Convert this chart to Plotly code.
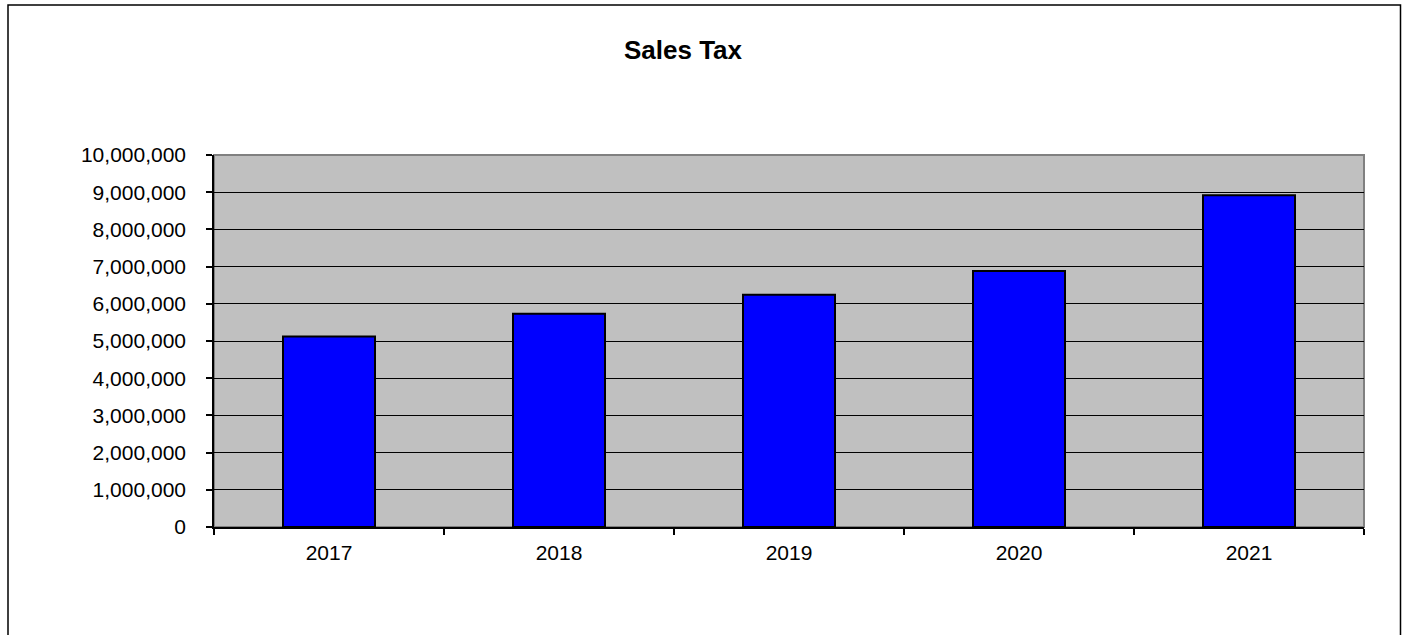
import plotly.graph_objects as go

years = ["2017", "2018", "2019", "2020", "2021"]
sales_tax = [5120000, 5730000, 6240000, 6880000, 8920000]
y_ticks = [0, 1000000, 2000000, 3000000, 4000000, 5000000, 6000000, 7000000, 8000000, 9000000, 10000000]
title_text = "Sales Tax"

W, H = 1409, 635
L, R, T, B = 214, 1364, 155, 527
FONT = "Arial, Liberation Sans, sans-serif"

def px_x(x):
    return (x - L) / (R - L)

def px_y(y):
    return (B - y) / (B - T)

fig = go.Figure(go.Bar(
    x=years, y=sales_tax, width=0.4,
    marker=dict(color="#0000FF", line=dict(color="black", width=2)),
))

fig.update_layout(
    width=W, height=H,
    margin=dict(l=L, r=W - R, t=T, b=H - B, pad=0),
    paper_bgcolor="white", plot_bgcolor="#C0C0C0",
    showlegend=False,
    font=dict(family=FONT, color="black", size=21),
    title=dict(text="<b>" + title_text + "</b>", x=px_x(683), xref="paper", xanchor="center",
               y=1 - 50 / H, yref="container", yanchor="middle",
               font=dict(family=FONT, size=26, color="black")),
    shapes=[
        dict(type="rect", xref="paper", yref="paper", x0=0, x1=1, y0=0, y1=1,
             line=dict(color="#808080", width=2), layer="below"),
        dict(type="rect", xref="paper", yref="paper", x0=px_x(8), x1=px_x(1400.5),
             y0=px_y(5), y1=px_y(700), line=dict(color="black", width=1.5), layer="above"),
    ],
)

fig.update_xaxes(type="category", tickson="boundaries", ticks="outside", ticklen=6,
                 tickwidth=1.5, tickcolor="black", showline=True, linecolor="black",
                 linewidth=1.5, showgrid=False, tickfont=dict(size=21), ticklabelstandoff=6)
fig.update_yaxes(range=[0, 10000000], tickvals=y_ticks, tickformat=",", ticks="outside",
                 ticklen=6, tickwidth=1.5, tickcolor="black", showline=True,
                 linecolor="black", linewidth=1.5, showgrid=True, gridcolor="black",
                 gridwidth=1.2, zeroline=False, tickfont=dict(size=21), ticklabelstandoff=16)

fig.write_html("out.html", config={"displayModeBar": False},
               post_script="document.body.style.margin='0';")
